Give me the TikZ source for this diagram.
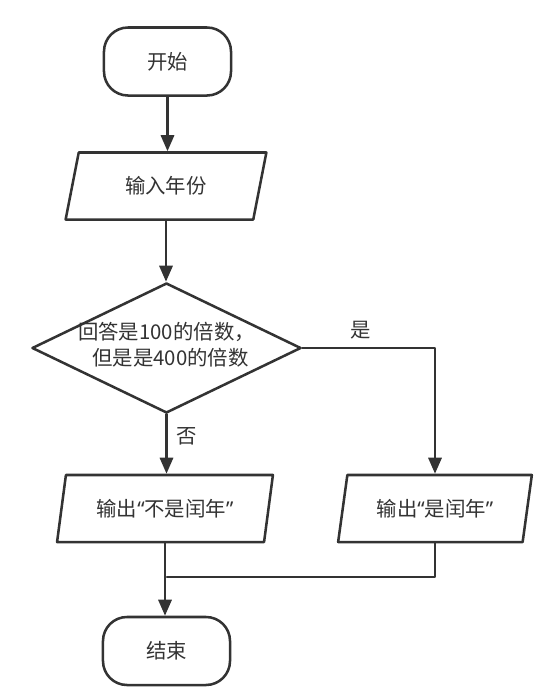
\documentclass[tikz,border=0pt]{standalone}
\usepackage{fontspec}
\newfontfamily\cjk{Noto Sans CJK SC}
\newfontfamily\quotefont{Noto Sans}
\usepackage{xcolor}
\usetikzlibrary{arrows.meta,shapes.geometric}
\definecolor{ink}{HTML}{333333}
\newcommand\openq{{\quotefont “}}
\newcommand\closeq{{\quotefont ”}}
\tikzset{
  box/.style={draw=ink,line width=1.8pt,fill=white,inner sep=0pt,text=ink,
    font=\cjk\fontsize{14.5}{19}\selectfont},
  terminal/.style={box,rectangle,rounded corners=0.6cm,minimum width=3.175cm,minimum height=1.7cm},
  io/.style={box,trapezium,trapezium left angle=72,trapezium right angle=108,
    trapezium stretches=true,minimum height=1.675cm},
  decision/.style={box,diamond,aspect=2.07,minimum width=6.725cm,minimum height=3.25cm},
  flow/.style={draw=ink,line width=1.8pt,-{Triangle[width=0.33cm,length=0.4cm]}},
  tag/.style={text=ink,font=\cjk\fontsize{14.5}{19}\selectfont}
}
\begin{document}
\begin{tikzpicture}[line cap=round,line join=round,x=0.025cm,y=-0.025cm]
                \useasboundingbox (0,0) rectangle (554,700);
                \node [terminal] (start) at (167.5,61.5) {开始};
                \node [io,minimum width=5.05cm] (input) at (166,186) {输入年份};
                \node [decision,label={[tag,align=center,yshift=0.08cm]center:回答是100的倍数，\\\hspace{0.2cm}但是是400的倍数}] (check) at (166.5,348) {};
                \node [io,minimum width=5.4cm] (notleap) at (165,508.5) {输出\openq 不是闰年\closeq};
                \node [io,minimum width=4.85cm] (leap) at (435,508.5) {输出\openq 是闰年\closeq};
                \node [terminal] (stop) at (166.5,651) {结束};
                \coordinate (join) at (167,577);
                % connectors
                \draw [flow] (start.south) -- (start.south |- input.north);
                \draw [flow] (input.south) -- (input.south |- check.north);
                \draw [flow] (check.south) -- (check.south |- notleap.north) node [tag,pos=0.37,right=0.1cm] {否};
                \draw [flow] (check.east) -| (leap.north) node [tag,pos=0.22,above=0.08cm] {是};
                \draw [flow] (notleap.south) -- (notleap.south |- stop.north);
                \draw [draw=ink,line width=1.8pt] (leap.south) |- (join);
            \end{tikzpicture}
\end{document}
